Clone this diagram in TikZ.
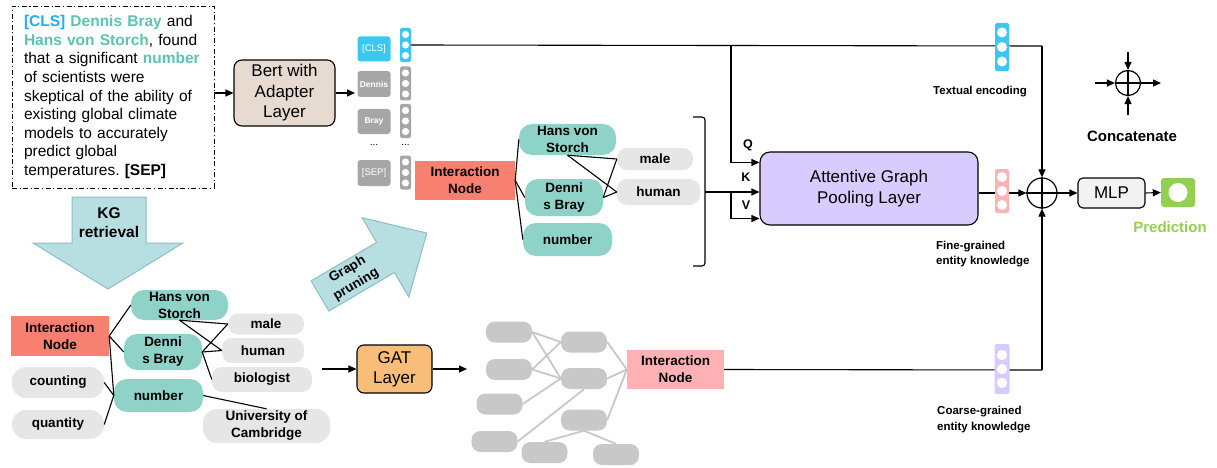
\documentclass[tikz,border=0pt]{standalone}
\usepackage{fontspec}
\setmainfont{Liberation Sans}
\usetikzlibrary{arrows.meta,backgrounds,calc}
\definecolor{tealn}{HTML}{8FD3C8}
\definecolor{tealt}{HTML}{5CC2B2}
\definecolor{clsblue}{HTML}{3EC6F2}
\definecolor{clstext}{HTML}{22AEEA}
\definecolor{grayn}{HTML}{E6E6E6}
\definecolor{tokgray}{HTML}{A6A6A6}
\definecolor{salmon}{HTML}{F88070}
\definecolor{pinkn}{HTML}{FFB1B6}
\definecolor{gatorange}{HTML}{F9BD7A}
\definecolor{bertbg}{HTML}{E7DBD1}
\definecolor{agpc}{HTML}{D8CCFF}
\definecolor{lav}{HTML}{D7CCFF}
\definecolor{pinkv}{HTML}{FFB3B3}
\definecolor{predgreen}{HTML}{92D050}
\definecolor{arrfill}{HTML}{B7DFE2}
\definecolor{arrdraw}{HTML}{8CBEC3}
\definecolor{ggray}{HTML}{C8C8C8}
\definecolor{mlpbg}{HTML}{F2F2F2}
\newcommand\vecbar[8]{%
  \node[vbar,fill=#6,minimum width=#4pt,minimum height=#5pt] (#1) at (#2,#3) {};
  \foreach \vv in {-#8,0,#8} {\fill[white] ($(#1.center)+(0pt,\vv pt)$) circle (#7pt);}
}
\frenchspacing
\begin{document}
\begin{tikzpicture}[x=1pt,y=-1pt,
  >={Triangle[length=8pt,width=7pt]},
  conn/.style={line width=1.1pt,draw=black},
  arr/.style={conn,->},
  box/.style={draw=black,line width=1.1pt,rounded corners=8pt,align=center,inner sep=0pt},
  tnode/.style={fill=tealn,rounded corners=13pt,align=center,inner sep=0pt,font=\fontsize{13.5}{17}\selectfont\bfseries},
  gnode/.style={fill=grayn,rounded corners=10pt,align=center,inner sep=0pt,font=\fontsize{13.5}{17}\selectfont\bfseries},
  inode/.style={align=center,inner sep=0pt,font=\fontsize{13.5}{17}\selectfont\bfseries},
  tok/.style={fill=tokgray,rounded corners=3pt,text=white,inner sep=0pt,minimum width=33pt,minimum height=25pt,font=\fontsize{8.5}{10}\selectfont\bfseries},
  vbar/.style={rounded corners=2pt,inner sep=0pt},
  gg/.style={fill=ggray,rounded corners=9pt,inner sep=0pt,minimum width=46pt,minimum height=21pt},
  gline/.style={draw=ggray,line width=1.8pt},
  lab/.style={font=\fontsize{11.5}{15.5}\selectfont\bfseries,align=left,inner sep=0pt},
  qkv/.style={font=\fontsize{12.5}{14}\selectfont\bfseries,inner sep=0pt},
  bigarrow/.style={fill=arrfill,draw=arrdraw,line width=1pt},
]
\useasboundingbox (0,0) rectangle (1217,468);

% ---------- input text ----------
\node[draw,line width=0.9pt,dash pattern=on 5pt off 2.5pt on 1.2pt off 2.5pt,
  minimum width=202pt,minimum height=182pt,inner xsep=12pt,inner ysep=0pt,text width=178pt,align=left,
  font=\fontsize{15.5}{18.6}\selectfont] (txt) at (113,97)
 {{\color{clstext}\bfseries [CLS]} {\color{tealt}\bfseries Dennis Bray} and\\
  {\color{tealt}\bfseries Hans von Storch}, found\\
  that a significant {\color{tealt}\bfseries number}\\
  of scientists were\\
  skeptical of the ability of\\
  existing global climate\\
  models to accurately\\
  predict global\\
  temperatures. {\bfseries [SEP]}};

% ---------- BERT ----------
\node[box,fill=bertbg,minimum width=101pt,minimum height=66pt,font=\fontsize{17}{20.5}\selectfont] (bert) at (284.5,93) {Bert with\\Adapter\\Layer};
\draw[arr] (txt.east |- bert.west) -- (bert.west);
\coordinate (tokin) at (355,93);
\draw[arr] (bert.east) -- (tokin);

% tokens
\node[tok,fill=clsblue,font=\fontsize{9.5}{12}\selectfont] (tcls) at (374,49) {[CLS]};
\node[tok,minimum height=26pt] (tden) at (374,84) {Dennis};
\node[tok] (tbray) at (374,121.5) {Bray};
\node[font=\fontsize{10}{12}\selectfont,inner sep=0pt] (tdots) at (374,145) {...};
\node[tok,minimum height=26pt,font=\fontsize{9.5}{12}\selectfont] (tsep) at (374,173) {[SEP]};

\vecbar{vcls}{405.5}{45}{11}{34}{clsblue}{3.6}{10.5}
\vecbar{vden}{405.5}{83.5}{11}{34}{tokgray}{3.6}{10.5}
\vecbar{vbray}{405.5}{121}{11}{34}{tokgray}{3.6}{10.5}
\node[font=\fontsize{10}{12}\selectfont,inner sep=0pt] (vdots) at (405.5,145) {...};
\vecbar{vsep}{405.5}{172.5}{11}{34}{tokgray}{3.6}{10.5}

% ---------- top pruned graph ----------
\node[inode,fill=salmon,minimum width=100pt,minimum height=39pt] (int1) at (465,180.5) {Interaction\\Node};
\node[tnode,minimum width=97pt,minimum height=31pt] (hans1) at (567.5,139.5) {Hans von\\Storch};
\node[tnode,minimum width=78pt,minimum height=37pt] (den1) at (564,197.5) {Denni\\s Bray};
\node[tnode,minimum width=89pt,minimum height=33pt] (num1) at (567.5,239.5) {number};
\node[gnode,minimum width=76pt,minimum height=22pt] (male1) at (655,159) {male};
\node[gnode,minimum width=83pt,minimum height=26pt] (hum1) at (658.5,192) {human};
\draw[conn] (int1.east) -- (hans1.west);
\draw[conn] (int1.east) -- (den1.west);
\draw[conn] (int1.east) -- (num1.west);
\draw[conn] (hans1.south) -- (male1.west);
\draw[conn] (hans1.south) -- (hum1.west);
\draw[conn] (den1.east) -- (male1.west);
\draw[conn] (den1.east) -- (hum1.west);
\draw[conn,rounded corners=3pt] (693,117) -- (705,117) -- (705,266) -- (693,266);

% ---------- attentive pooling ----------
\node[box,fill=agpc,rounded corners=10pt,minimum width=218pt,minimum height=73pt,font=\fontsize{17}{21}\selectfont] (agp) at (869,188.5) {Attentive Graph\\Pooling Layer};
\node[draw,circle,line width=1.2pt,minimum size=30pt,inner sep=0pt] (oplus) at (1042,193) {};
\draw[line width=1.2pt] (oplus.north)--(oplus.south) (oplus.west)--(oplus.east);
\node[box,fill=mlpbg,rounded corners=5pt,minimum width=67pt,minimum height=30pt,font=\fontsize{17}{20}\selectfont] (mlp) at (1111.5,193) {MLP};
\node[fill=predgreen,rounded corners=3pt,minimum width=34pt,minimum height=29pt,inner sep=0pt] (pred) at (1178,192.5) {};
\fill[white] (pred.center) circle (9.5pt);
\node[font=\fontsize{15}{18}\selectfont\bfseries,text=predgreen,inner sep=0pt] (predlab) at (1170,227) {Prediction};

\node[qkv] (ql) at (748,145) {Q};
\node[qkv] (kl) at (746,177) {K};
\node[qkv] (vl) at (746,205) {V};

\coordinate (tcorner) at (1042,46);
\coordinate (qsplit) at (731,46);
\coordinate (brk) at (705,192);
\coordinate (vsplit) at (731,192);
\coordinate (ccorner) at (1042,370);

% ---------- bottom: KG ----------
\filldraw[bigarrow] (72,197) -- (146,197) -- (146,243) -- (183,243) -- (108,289) -- (33,243) -- (72,243) -- cycle;
\node[font=\fontsize{15.5}{19}\selectfont\bfseries,align=center,inner sep=0pt] (kglab) at (109,222.5) {KG\\retrieval};

\node[inode,fill=salmon,minimum width=98pt,minimum height=40pt] (int2) at (60,336) {Interaction\\Node};
\node[tnode,minimum width=97pt,minimum height=30pt] (hans2) at (179.5,305) {Hans von\\Storch};
\node[tnode,minimum width=78pt,minimum height=36pt] (den2) at (163,352) {Denni\\s Bray};
\node[tnode,minimum width=89pt,minimum height=33pt] (num2) at (158.5,395.5) {number};
\node[gnode,minimum width=76pt,minimum height=21pt] (male2) at (266,324) {male};
\node[gnode,minimum width=82pt,minimum height=25pt] (hum2) at (263,350.5) {human};
\node[gnode,minimum width=100pt,minimum height=25pt] (bio2) at (262,379.5) {biologist};
\node[gnode,rounded corners=14pt,minimum width=127pt,minimum height=34pt] (univ2) at (266.5,426) {University of\\Cambridge};
\node[gnode,rounded corners=14pt,minimum width=92pt,minimum height=31pt] (count2) at (58,382.5) {counting};
\node[gnode,rounded corners=14pt,minimum width=92pt,minimum height=29pt] (quant2) at (58,424.5) {quantity};
\draw[conn] (int2.east) -- (hans2.west);
\draw[conn] (int2.east) -- (den2.west);
\draw[conn] (int2.east) -- (num2.west);
\draw[conn] (count2.east) -- (num2.west);
\draw[conn] (quant2.east) -- (num2.west);
\draw[conn] (hans2.south) -- (male2.west);
\draw[conn] (hans2.south) -- (hum2.west);
\draw[conn] (den2.east) -- (male2.west);
\draw[conn] (den2.east) -- (hum2.west);
\draw[conn] (den2.east) -- (bio2.west);
\draw[conn] (num2.east) -- (univ2.north);

% graph pruning arrow
\begin{scope}[shift={(320,296)},rotate=30.5]
\filldraw[bigarrow] (0,-17.5) -- (76,-17.5) -- (76,-46) -- (124,0) -- (76,46) -- (76,17.5) -- (0,17.5) -- cycle;
\node[rotate=30.5,font=\fontsize{13.5}{17}\selectfont\bfseries,align=center,inner sep=0pt] (gplab) at (37,0) {Graph\\pruning};
\end{scope}

% GAT
\node[box,fill=gatorange,rounded corners=7pt,minimum width=75pt,minimum height=48pt,font=\fontsize{17}{20}\selectfont] (gat) at (394.5,369) {GAT\\Layer};
\coordinate (gin) at (322,369);
\coordinate (gout) at (467,369);
\draw[arr] (gin) -- (gat.west);
\draw[arr] (gat.east) -- (gout);

\node[gg] (g1) at (509,332) {};
\node[gg] (g2) at (509,369.5) {};
\node[gg] (g3) at (499.5,404) {};
\node[gg] (g4) at (494.5,441.5) {};
\node[gg] (g5) at (584,342) {};
\node[gg] (g6) at (584,378.5) {};
\node[gg] (g7) at (584,420) {};
\node[gg] (g8) at (544.5,452.5) {};
\node[gg] (g9) at (616,454.5) {};
\node[inode,fill=pinkn,minimum width=97pt,minimum height=39pt] (int3) at (675.5,369.5) {Interaction\\Node};

% vectors on the right
\vecbar{vtext}{1002}{47}{14}{48}{clsblue}{5}{14.5}
\vecbar{vfine}{1002}{191}{14}{44}{pinkv}{5}{14}
\vecbar{vcoarse}{1002}{369}{15}{50}{lav}{5.2}{14}
\node[lab,anchor=west] (ltext) at (933,92) {Textual encoding};
\node[lab,anchor=west] (lfine) at (936,254) {Fine-grained\\entity knowledge};
\node[lab,anchor=west] (lcoarse) at (937,419.5) {Coarse-grained\\entity knowledge};

% concatenate legend
\node[draw,circle,line width=1.2pt,minimum size=25pt,inner sep=0pt] (cc) at (1128,83) {};
\draw[line width=1.2pt] (cc.north)--(cc.south) (cc.west)--(cc.east);
\coordinate (ccl) at (1095,83);
\coordinate (ccr) at (1161,83);
\coordinate (cct) at (1128,52);
\coordinate (ccb) at (1128,115);
\draw[arr] (ccl) -- (cc.west);
\draw[arr] (cc.east) -- (ccr);
\draw[arr] (cct) -- (cc.north);
\draw[arr] (ccb) -- (cc.south);
\node[font=\fontsize{15}{18}\selectfont\bfseries,inner sep=0pt] (cclab) at (1132,136) {Concatenate};

% ---------- connectors behind ----------
\begin{pgfonlayer}{background}
\draw[conn] (vcls.east) -- (tcorner);
\draw[arr] (tcorner) -- (oplus.north);
\draw[arr] (qsplit) |- ($(agp.north west)+(0,11)$);
\draw[arr] (brk) -- (brk -| agp.west);
\draw[arr] (vsplit) |- ($(agp.south west)+(0,-7)$);
\draw[arr] (agp.east |- oplus.west) -- (oplus.west);
\draw[arr] (oplus.east) -- (mlp.west);
\draw[arr] (mlp.east) -- (pred.west);
\draw[conn] (int3.east) -- (ccorner);
\draw[arr] (ccorner) -- (oplus.south);
\draw[gline] (g1.east) -- (g5.west);
\draw[gline] (g1.east) -- (g6.west);
\draw[gline] (g2.east) -- (g5.west);
\draw[gline] (g2.east) -- (g6.west);
\draw[gline] (g3.east) -- (g6.west);
\draw[gline] (g4.east) -- (g6.south);
\draw[gline] (g7.south) -- (g8.north);
\draw[gline] (g7.south) -- (g9.north);
\draw[gline] (g5.east) -- (int3.west);
\draw[gline] (g6.east) -- (int3.west);
\draw[gline] (g7.east) -- (int3.west);
\end{pgfonlayer}
\end{tikzpicture}
\end{document}
